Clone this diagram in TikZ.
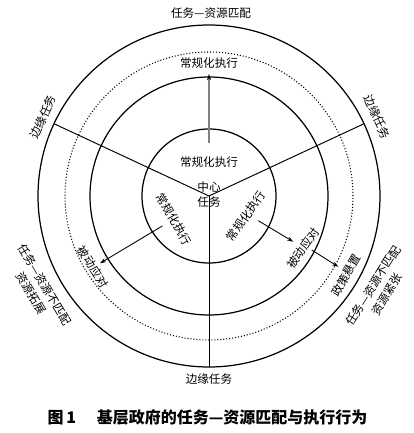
\documentclass[tikz,border=0pt]{standalone}
\usepackage{fontspec}
\newfontfamily\cjk{Noto Sans CJK SC}
\usetikzlibrary{arrows.meta}

\begin{document}
\begin{tikzpicture}[x=0.02cm, y=0.02cm, >=Stealth, font=\cjk\fontsize{6.6}{9}\selectfont]

\tikzset{
  ring/.style={line width=0.7pt},
  dotring/.style={line width=0.6pt, dash pattern=on 0.6pt off 1.1pt},
  spoke/.style={line width=0.55pt},
  lbl/.style={inner sep=0pt, align=center},
  arr/.style={-{Stealth[length=3.5pt,width=2.4pt]}, line width=0.5pt}
}

\useasboundingbox (-209,-237) rectangle (204,196);

% --- Anéis ---
\coordinate (O) at (0,0);
\draw[ring] (O) circle[radius=171];
\draw[dotring] (O) circle[radius=144];
\draw[ring] (O) circle[radius=119];
\draw[ring] (O) circle[radius=67];

% --- Raios (três setores) ---
\coordinate (rimL) at (155:171);
\coordinate (rimR) at (25:171);
\coordinate (rimB) at (270:171);
\draw[spoke] (O) -- (rimL);
\draw[spoke] (O) -- (rimR);
\draw[spoke] (O) -- (rimB);

% --- Textos ---
\node[lbl] (match) at (2,183) {任务—资源匹配};
\node[lbl] (edgeL) at (-166,79) [rotate=66] {边缘任务};
\node[lbl] (edgeR) at (168,79) [rotate=-65] {边缘任务};
\node[lbl] (edgeB) at (0,-183) {边缘任务};

\node[lbl] (routT) at (0,133) {常规化执行};
\node[lbl] (routC) at (0,34) {常规化执行};
\node[lbl] (core) at (0,1.5) {中心\\任务};
\node[lbl] (routL) at (-35,-23) [rotate=-60] {常规化执行};
\node[lbl] (routR) at (37,-20) [rotate=55] {常规化执行};

\node[lbl] (passL) at (-116,-71) [rotate=-58] {被动应对};
\node[lbl] (passR) at (94,-52) [rotate=55] {被动应对};
\node[lbl] (susp) at (137,-79) [rotate=60] {政策悬置};

\node[lbl] (misL) at (-171,-93) [rotate=-59] {任务—资源不匹配\\资源拓展};
\node[lbl] (misR) at (171,-94) [rotate=58] {任务—资源不匹配\\资源紧张};

% --- Setas ---
\coordinate (upS) at (0,53);
\coordinate (upE) at (0,122);
\draw[-{Stealth[length=3.5pt,width=2.4pt,color=black]}, line width=0.7pt, draw=gray] (upS) -- (upE);

\coordinate (llS) at (-46.7,-30);
\coordinate (llE) at (-109,-67.3);
\draw[arr] (llS) -- (llE);

\coordinate (lrS) at (49.3,-24.7);
\coordinate (lrE) at (84.3,-45.7);
\draw[arr] (lrS) -- (lrE);

\coordinate (rsS) at (102.7,-54);
\coordinate (rsE) at (129.3,-70.7);
\draw[arr] (rsS) -- (rsE);

% --- Legenda ---
\node[lbl, font=\cjk\bfseries\fontsize{9.1}{11}\selectfont] (cap) at (-1.5,-221.7)
  {图\,1\hspace{1.3em}基层政府的任务—资源匹配与执行行为};

\end{tikzpicture}
\end{document}
